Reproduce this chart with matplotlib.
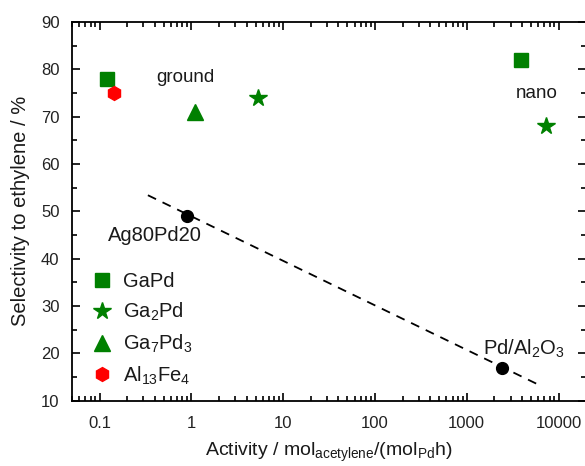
import matplotlib
matplotlib.use("Agg")
import matplotlib.pyplot as plt
import numpy as np
from matplotlib.ticker import LogLocator, MultipleLocator, FuncFormatter

plt.rcParams['font.family'] = ['Liberation Sans', 'DejaVu Sans']
plt.rcParams['mathtext.fontset'] = 'custom'
plt.rcParams['mathtext.rm'] = 'Liberation Sans'
plt.rcParams['mathtext.it'] = 'Liberation Sans'

# Data (activity, selectivity)
gapd_x = [0.119, 3880]
gapd_y = [78, 82]
ga2pd_x = [5.3, 7330]
ga2pd_y = [74, 68]
ga7pd3_x = [1.09]
ga7pd3_y = [71]
al13fe4_x = [0.143]
al13fe4_y = [75]
ref_x = [0.9, 2440]
ref_y = [49, 17]
trend_x = [0.336, 5890]
trend_y = [53.4, 13.5]

green = '#008000'

fig = plt.figure(figsize=(5.85, 4.66), dpi=100)
ax = fig.add_axes([0.123, 0.140, 0.879, 0.813])

ax.plot(trend_x, trend_y, ls=(0, (5, 4)), color='black', lw=1.3)
ax.plot(gapd_x, gapd_y, 's', color=green, ms=9.5, ls='none', label='GaPd')
ax.plot(ga2pd_x, ga2pd_y, '*', color=green, ms=13, ls='none', label='Ga$_2$Pd')
ax.plot(ga7pd3_x, ga7pd3_y, '^', color=green, ms=12, ls='none', label='Ga$_7$Pd$_3$')
ax.plot(al13fe4_x, al13fe4_y, 'h', color='red', ms=10, ls='none', label='Al$_{13}$Fe$_4$')
ax.plot(ref_x, ref_y, 'o', color='black', ms=8.5, ls='none')

ax.set_xscale('log')
ax.set_xlim(0.05, 20000)
ax.set_ylim(10, 90)
ax.yaxis.set_major_locator(MultipleLocator(10))
ax.yaxis.set_minor_locator(MultipleLocator(5))
ax.xaxis.set_major_locator(LogLocator(base=10, numticks=20))
ax.xaxis.set_minor_locator(LogLocator(base=10, subs=np.arange(2, 10), numticks=20))

def fmt(v, pos):
    if v >= 1:
        return '%d' % round(v)
    return ('%g' % v)
ax.xaxis.set_major_formatter(FuncFormatter(fmt))

ax.tick_params(which='both', direction='in', top=True, right=True, labelsize=12, width=1.2,
               labelcolor='#222222')
ax.tick_params(which='major', length=6)
ax.tick_params(which='minor', length=3.5)
ax.tick_params(axis='x', pad=11)
ax.tick_params(axis='y', pad=9)
for s in ax.spines.values():
    s.set_linewidth(1.3)

tc = '#1a1a1a'
ax.text(0.85, 78.2, 'ground', ha='center', va='center', fontsize=13.5, color=tc)
ax.text(5770, 74.9, 'nano', ha='center', va='center', fontsize=13.5, color=tc)
ax.text(0.40, 45.0, 'Ag80Pd20', ha='center', va='center', fontsize=14.5, color=tc)
ax.text(4200, 21.0, 'Pd/Al$_2$O$_3$', ha='center', va='center', fontsize=14.5, color=tc)

ax.set_xlabel('Activity / mol$_{\\mathrm{acetylene}}$/(mol$_{\\mathrm{Pd}}$h)', fontsize=14,
              labelpad=7, color=tc)
ax.set_ylabel('Selectivity to ethylene / %', fontsize=14.5, labelpad=8, color=tc)

leg = ax.legend(loc='lower left', bbox_to_anchor=(0.0, 0.0), frameon=False, fontsize=14.5,
                handletextpad=0.25, labelspacing=0.47, borderaxespad=0.3, handlelength=1.6,
                labelcolor=tc)

fig.savefig('out.png', dpi=100)
